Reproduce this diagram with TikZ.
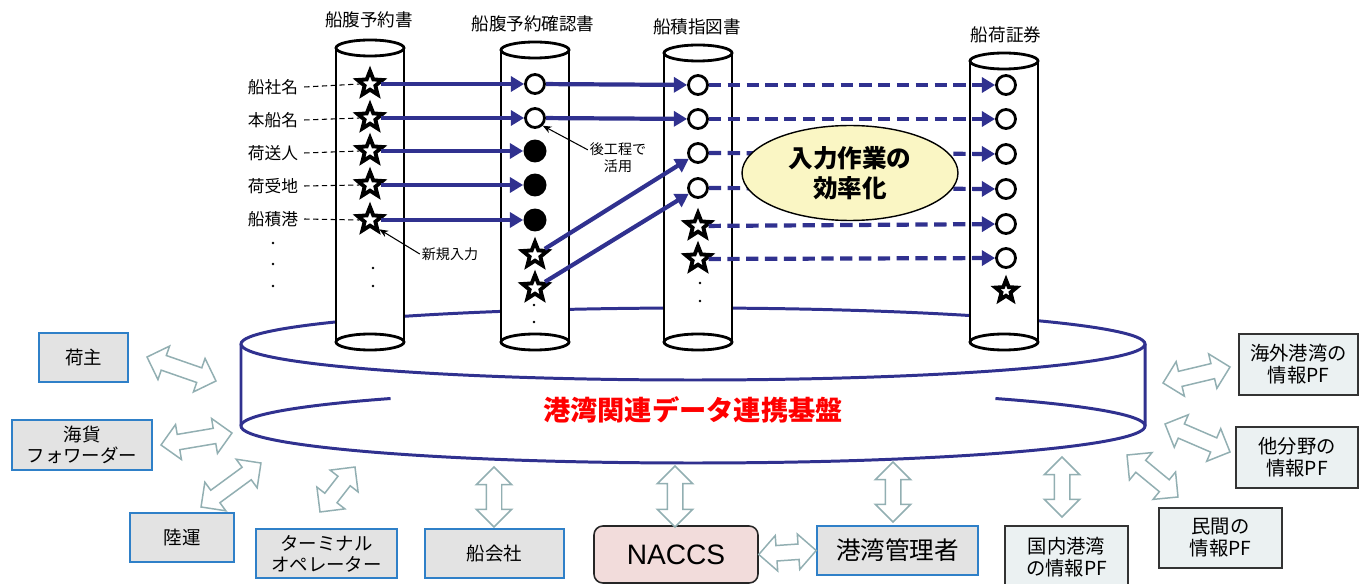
\documentclass[tikz,border=0pt]{standalone}
\usepackage{fontspec}
\setmainfont{Noto Sans CJK JP}
\newfontfamily\latinsans{Liberation Sans}
\usepackage{xcolor}
\usetikzlibrary{positioning, arrows.meta, calc, shapes.geometric, shapes.arrows}

\definecolor{navy}{HTML}{30318F}
\definecolor{linkgray}{HTML}{92AFB2}
\definecolor{sysfill}{HTML}{E3E3E3}
\definecolor{sysedge}{HTML}{2F80C8}
\definecolor{pffill}{HTML}{EBF1F2}
\definecolor{naccsfill}{HTML}{F2DCDB}
\definecolor{notefill}{HTML}{FAF6C4}

% one document pillar: centre x, top y
\newcommand{\docpillar}[2]{%
  \fill[white] (#1-34,#2) rectangle (#1+34,342);
  \draw[line width=1.6pt] (#1-34,#2) -- (#1-34,342) (#1+34,#2) -- (#1+34,342);
  \draw[colpipe] (#1,342) ellipse [x radius=34, y radius=8];
  \draw[colpipe] (#1,#2) ellipse [x radius=34, y radius=8];}

% hollow two-headed arrow between two named points
\newcommand{\biarrow}[2]{%
  \path let \p1=(#1), \p2=(#2),
        \n1={atan2(\y2-\y1,\x2-\x1)}, \n2={veclen(\x2-\x1,\y2-\y1)} in
    node[biarr, rotate=\n1, minimum height=\n2] at ($(#1)!0.5!(#2)$) {};}

\begin{document}
\begin{tikzpicture}[
  x=0.02cm, y=-0.02cm,
  rim/.style={navy, line width=1.7pt},
  colpipe/.style={draw, line width=1.6pt, fill=white},
  doctitle/.style={font=\fontsize{10}{12}\selectfont},
  field/.style={font=\fontsize{9.5}{11}\selectfont},
  note/.style={font=\fontsize{8}{9.5}\selectfont, align=center, inner sep=1pt},
  staritem/.style={star, star points=5, star point ratio=2.3, draw, line width=2.2pt,
                   fill=white, minimum size=0.52cm, inner sep=0pt},
  opendot/.style={circle, draw, line width=1.6pt, fill=white, minimum size=0.38cm, inner sep=0pt},
  fulldot/.style={circle, fill=black, minimum size=0.46cm, inner sep=0pt},
  flow/.style={-{Triangle[length=7.5pt, width=8.5pt]}, line width=2.4pt, navy},
  reuse/.style={flow, dash pattern=on 7pt off 3.7pt},
  lead/.style={dash pattern=on 3pt off 2pt, line width=0.6pt},
  pointer/.style={-{Stealth[length=5pt, width=4pt]}, line width=0.6pt},
  sysbox/.style={draw=sysedge, fill=sysfill, line width=0.9pt, align=center,
                 font=\fontsize{10.5}{12}\selectfont, inner sep=0pt},
  pfbox/.style={draw=black!80, fill=pffill, line width=0.9pt, align=center,
                font=\fontsize{11}{12.5}\selectfont, inner sep=0pt},
  biarr/.style={double arrow, draw=linkgray, fill=white, line width=0.85pt,
                minimum width=0.68cm, double arrow head extend=0.2cm,
                double arrow tip angle=90, inner xsep=0pt, inner ysep=0.14cm}
]
\useasboundingbox (0,0) rectangle (1359,584);

% platform disk
\draw[rim] (693,344) ellipse [x radius=452, y radius=36];
\draw[rim] (241,344) -- (241,426)
  arc [start angle=180, end angle=0, x radius=452, y radius=37] -- (1145,344);
\draw[rim] plot[domain=180:228, samples=30] ({693+452*cos(\x)}, {426+37*sin(\x)});
\draw[rim] plot[domain=312:360, samples=30] ({693+452*cos(\x)}, {426+37*sin(\x)});
\node[text=red, font=\fontsize{15.5}{18}\selectfont\bfseries] (base) at (693,410) {港湾関連データ連携基盤};

% pillars
\docpillar{370}{48}
\docpillar{535}{50}
\docpillar{698}{53}
\docpillar{1004}{61}
\node[doctitle] (t1) at (369,20) {船腹予約書};
\node[doctitle] (t2) at (533,24) {船腹予約確認書};
\node[doctitle] (t3) at (697,27) {船積指図書};
\node[doctitle] (t4) at (1006,35) {船荷証券};

% booking fields
\node[field] (lb1) at (273,87) {船社名};
\node[field] (lb2) at (273,120) {本船名};
\node[field] (lb3) at (273,153) {荷送人};
\node[field] (lb4) at (273,186) {荷受地};
\node[field] (lb5) at (273,219) {船積港};
\node[staritem] (bk1) at (370,84) {};
\node[staritem] (bk2) at (370,118) {};
\node[staritem] (bk3) at (370,151) {};
\node[staritem] (bk4) at (370,185) {};
\node[staritem] (bk5) at (370,220) {};
\draw[lead] (lb1.east) -- (bk1.west);
\draw[lead] (lb2.east) -- (bk2.west);
\draw[lead] (lb3.east) -- (bk3.west);
\draw[lead] (lb4.east) -- (bk4.west);
\draw[lead] (lb5.east) -- (bk5.west);

% confirmation
\node[opendot] (cf1) at (535,84) {};
\node[opendot] (cf2) at (535,118) {};
\node[fulldot] (cf3) at (535,151) {};
\node[fulldot] (cf4) at (535,185) {};
\node[fulldot] (cf5) at (535,220) {};
\node[staritem] (cf6) at (535,255) {};
\node[staritem] (cf7) at (535,288) {};
\draw[flow] (bk1) -- (cf1);
\draw[flow] (bk2) -- (cf2);
\draw[flow] (bk3) -- (cf3);
\draw[flow] (bk4) -- (cf4);
\draw[flow] (bk5) -- (cf5);

% shipping instruction
\node[opendot] (si1) at (698,85) {};
\node[opendot] (si2) at (698,119) {};
\node[opendot] (si3) at (698,153) {};
\node[opendot] (si4) at (698,188) {};
\node[staritem] (si5) at (698,226) {};
\node[staritem] (si6) at (698,259) {};
\draw[flow] (cf1) -- (si1);
\draw[flow] (cf2) -- (si2);
\draw[flow] (cf6) -- (si3);
\draw[flow] (cf7) -- (si4);

% bill of lading
\node[opendot] (bl1) at (1006,85) {};
\node[opendot] (bl2) at (1006,119) {};
\node[opendot] (bl3) at (1006,154) {};
\node[opendot] (bl4) at (1006,189) {};
\node[opendot] (bl5) at (1006,224) {};
\node[opendot] (bl6) at (1006,258) {};
\node[staritem, minimum size=0.44cm] (bl7) at (1006,291) {};
\draw[reuse] (si1) -- (bl1);
\draw[reuse] (si2) -- (bl2);
\draw[reuse] (si3) -- (bl3);
\draw[reuse] (si4) -- (bl4);
\draw[reuse] (si5) -- (bl5);
\draw[reuse] (si6) -- (bl6);

% dots
\fill (273,243) circle [radius=1.3] (273,264) circle [radius=1.3] (273,286) circle [radius=1.3];
\fill (373,268) circle [radius=1.3] (373,286) circle [radius=1.3];
\fill (534,305) circle [radius=1.3] (534,322) circle [radius=1.3];
\fill (700,283) circle [radius=1.3] (700,301) circle [radius=1.3];

% notes
\node[note] (later) at (618,158) {後工程で\\活用};
\node[note] (newin) at (450,254) {新規入力};
\draw[pointer] ([yshift=-5pt]later.north west) -- (cf2.south east);
\draw[pointer] (newin.west) -- (bk5.south east);
\node[ellipse, draw, line width=0.8pt, fill=notefill, minimum width=4.32cm, minimum height=1.9cm,
      align=center, font=\fontsize{14}{17}\selectfont\bfseries] (gain) at (850,173) {入力作業の\\効率化};

% users
\node[sysbox, minimum width=1.78cm, minimum height=0.98cm] (shipper) at (83.5,357.5) {荷主};
\node[sysbox, minimum width=2.8cm, minimum height=1cm] (fwd) at (82,445) {海貨\\フォワーダー};
\node[sysbox, minimum width=2.08cm, minimum height=0.98cm] (truck) at (182,537.5) {陸運};
\node[sysbox, minimum width=2.82cm, minimum height=0.98cm] (term) at (326.5,553.5) {ターミナル\\オペレーター};
\node[sysbox, minimum width=2.78cm, minimum height=0.98cm] (carrier) at (494.5,553.5) {船会社};
\node[draw=black!85, fill=naccsfill, line width=0.9pt, rounded corners=5pt, minimum width=3.28cm,
      minimum height=1.14cm, font=\latinsans\fontsize{16}{18}\selectfont] (naccs) at (676,554.5) {NACCS};
\node[sysbox, minimum width=3.22cm, minimum height=0.98cm, font=\fontsize{14}{16}\selectfont] (portadm) at (897.5,550.5) {港湾管理者};
\node[pfbox, minimum width=2.46cm, minimum height=1.24cm] (dompf) at (1066.5,557) {国内港湾\\の情報PF};
\node[pfbox, minimum width=2.46cm, minimum height=1.2cm] (pvtpf) at (1220.5,538) {民間の\\情報PF};
\node[pfbox, minimum width=2.44cm, minimum height=1.22cm] (othpf) at (1297,457.5) {他分野の\\情報PF};
\node[pfbox, minimum width=2.38cm, minimum height=1.22cm] (ovspf) at (1298.5,364.5) {海外港湾の\\情報PF};

% links to the platform
\coordinate (ls1) at (147,357);  \coordinate (lp1) at (216,381);
\coordinate (ls2) at (161,445);  \coordinate (lp2) at (232,433);
\coordinate (ls3) at (201,507);  \coordinate (lp3) at (261,463);
\coordinate (ls4) at (320,512);  \coordinate (lp4) at (355,467);
\coordinate (ls5) at (494,527);  \coordinate (lp5) at (494,467);
\coordinate (ls6) at (675,527);  \coordinate (lp6) at (675,466);
\coordinate (ls7) at (893,522);  \coordinate (lp7) at (893,462);
\coordinate (ls8) at (1062,517); \coordinate (lp8) at (1062,457);
\coordinate (ls9) at (1178,497); \coordinate (lp9) at (1127,455);
\coordinate (ls10) at (1230,452); \coordinate (lp10) at (1165,424);
\coordinate (ls11) at (1230,367); \coordinate (lp11) at (1163,383);
\biarrow{ls1}{lp1}
\biarrow{ls2}{lp2}
\biarrow{ls3}{lp3}
\biarrow{ls4}{lp4}
\biarrow{ls5}{lp5}
\biarrow{ls6}{lp6}
\biarrow{ls7}{lp7}
\biarrow{ls8}{lp8}
\biarrow{ls9}{lp9}
\biarrow{ls10}{lp10}
\biarrow{ls11}{lp11}
\biarrow{naccs.east}{portadm.west}
\end{tikzpicture}
\end{document}
